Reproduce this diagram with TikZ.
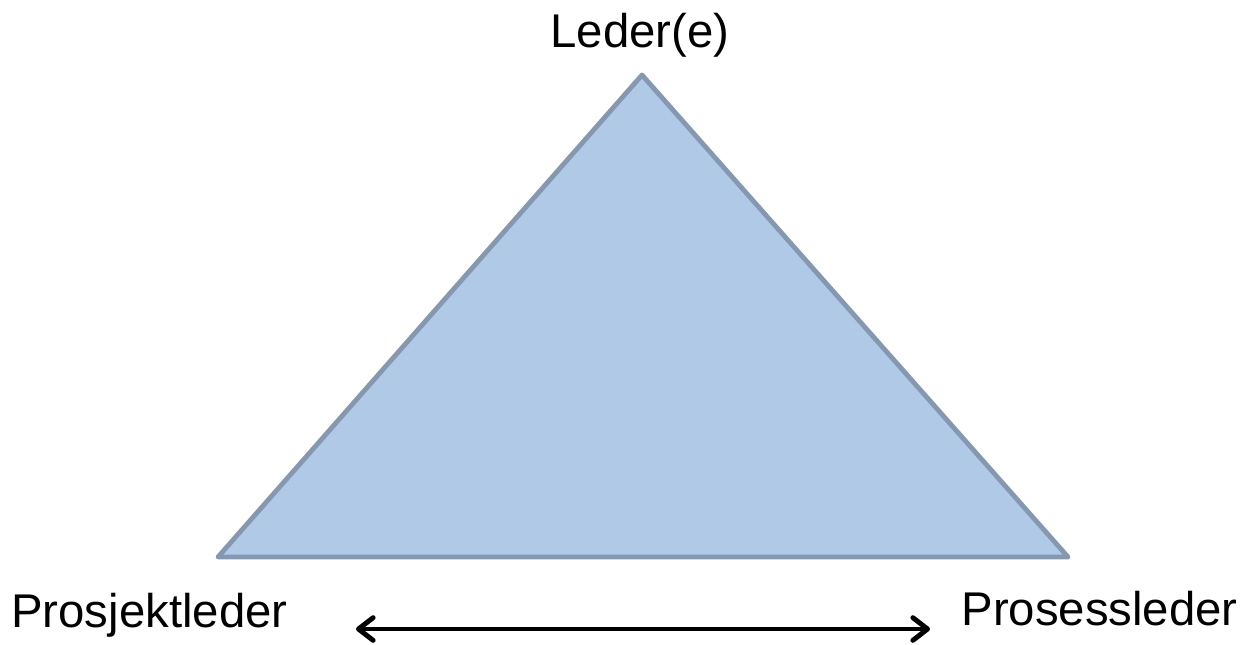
\documentclass[tikz,border=0pt]{standalone}
\usepackage{fontspec}
\setmainfont{Liberation Sans}
\usetikzlibrary{arrows.meta}
\definecolor{trifill}{HTML}{B0C9E7}
\definecolor{triedge}{HTML}{8598B0}
\begin{document}
\begin{tikzpicture}[x=0.75pt,y=-0.75pt,
    lbl/.style={font=\fontsize{35.5}{42}\selectfont, inner sep=0pt},
    >={Straight Barb[length=11pt,width=17pt,line cap=round,line join=round]}]
    \useasboundingbox (0,0) rectangle (1249,644);
    %vertici del triangolo
    \coordinate (top) at (642,75);
    \coordinate (left) at (218,557);
    \coordinate (right) at (1068,557);
    %disegno triangolo
    \draw[line width=3.6pt, triedge, fill=trifill, line join=round] (top)--(left)--(right)--cycle;
    %label
    \node[lbl, anchor=base] (leder) at (640,47) {Leder(e)};
    \node[lbl, anchor=base west] (prosjekt) at (11,627) {Prosjektleder};
    \node[lbl, anchor=base east] (prosess) at (1238,625) {Prosessleder};
    %freccia
    \coordinate (a) at (356,629);
    \coordinate (b) at (930,629);
    \draw[line width=3.7pt, <->] (a)--(b);
\end{tikzpicture}
\end{document}
